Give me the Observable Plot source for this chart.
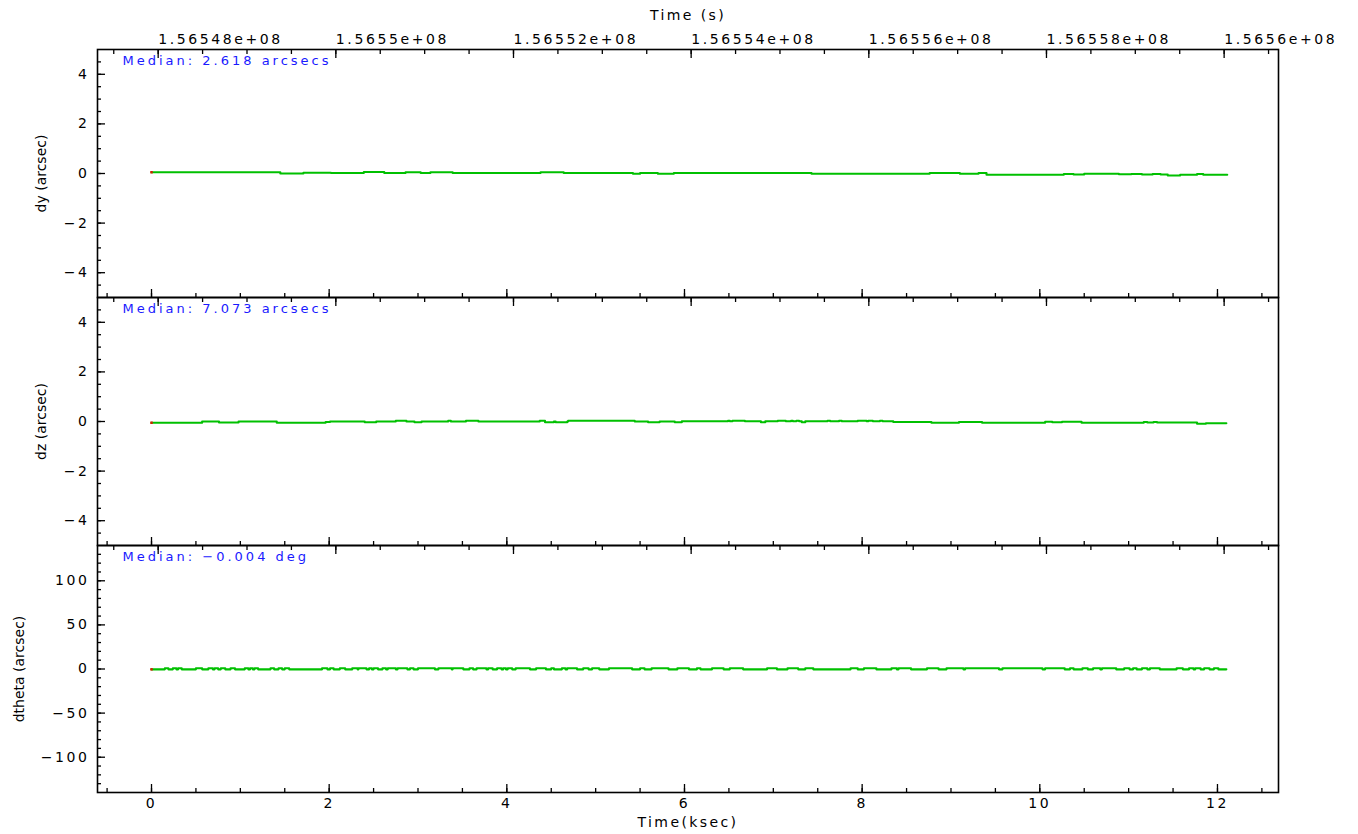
<!DOCTYPE html>
<html>
<head>
<meta charset="utf-8">
<script src="https://cdn.jsdelivr.net/npm/d3@7"></script>
<script src="https://cdn.jsdelivr.net/npm/@observablehq/plot@0.6"></script>
<style>
  body { margin: 0; background: #ffffff; }
  #chart { position: relative; width: 1358px; height: 834px; overflow: hidden; }
  #chart svg { position: absolute; left: 0; overflow: visible; }
  g[aria-label="x-axis tick label"] text, g[aria-label="y-axis tick label"] text { letter-spacing: 2.6px; }
  g[aria-label="x-axis label"] text { letter-spacing: 2.4px; }
  g[aria-label="text"] text { letter-spacing: 3px; }
</style>
</head>
<body>
<div id="chart"></div>
<script>
// ---------- data ----------
// Time axis in ksec; top axis shows absolute time in seconds
const timeOffsetSeconds = 156547925;
const topTickSeconds = [156548000, 156550000, 156552000, 156554000, 156556000, 156558000, 156560000];
const topTickLabels = ["1.56548e+08", "1.5655e+08", "1.56552e+08", "1.56554e+08", "1.56556e+08", "1.56558e+08", "1.5656e+08"];
const bottomTickValues = [0, 2, 4, 6, 8, 10, 12];

const medianLabels = ["Median: 2.618 arcsecs", "Median: 7.073 arcsecs", "Median: \u22120.004 deg"];
const panelLabels = ["dy (arcsec)", "dz (arcsec)", "dtheta (arcsec)"];

// dy (arcsec): step series
const dyTime = [0, 1.45, 1.71, 2.02, 2.39, 2.62, 2.86, 3.03, 3.14, 3.39,
                4.38, 4.64, 5.42, 5.50, 5.70, 5.88, 7.43, 8.76, 9.10, 9.31,
                9.40, 10.27, 10.38, 10.50, 10.89, 11.03, 11.15, 11.27, 11.36, 11.44,
                11.58, 11.77, 11.84, 12.11];
const dyValue = [0.05, 0.00, 0.03, 0.02, 0.06, 0.02, 0.05, 0.02, 0.05, 0.02,
                 0.05, 0.02, -0.01, 0.02, -0.01, 0.02, -0.01, 0.02, -0.01, 0.02,
                 -0.05, -0.02, -0.04, -0.01, -0.03, -0.02, -0.04, -0.02, -0.04, -0.08,
                 -0.05, -0.02, -0.05, -0.05];

// dz (arcsec): step series
const dzTime = [0, 0.57, 0.76, 0.98, 1.41, 1.96, 2.01, 2.40, 2.53, 2.75,
                2.87, 2.96, 3.04, 3.34, 3.37, 3.54, 3.68, 4.37, 4.43, 4.53,
                4.55, 4.68, 4.69, 5.44, 5.59, 5.72, 5.89, 5.97, 6.49, 6.51,
                6.54, 6.68, 6.86, 6.91, 7.05, 7.14, 7.20, 7.22, 7.26, 7.29,
                7.32, 7.36, 7.61, 7.64, 7.74, 7.77, 7.95, 8.05, 8.07, 8.12,
                8.20, 8.23, 8.35, 8.78, 9.09, 9.35, 10.06, 10.14, 10.25, 10.47,
                11.17, 11.21, 11.28, 11.32, 11.77, 11.87, 12.10];
const dzValue = [-0.05, 0.00, -0.04, 0.00, -0.05, -0.02, 0.00, -0.03, 0.00, 0.03,
                 0.00, -0.03, 0.00, 0.03, 0.00, 0.03, 0.00, 0.03, -0.03, 0.00,
                 -0.03, 0.00, 0.03, 0.00, -0.03, 0.00, -0.03, 0.01, 0.03, 0.01,
                 0.03, 0.01, -0.03, 0.01, 0.03, 0.01, 0.03, 0.01, 0.03, 0.01,
                 -0.03, 0.01, 0.03, 0.01, 0.03, 0.01, 0.03, 0.01, 0.03, 0.01,
                 0.03, 0.01, -0.02, -0.05, -0.02, -0.05, -0.01, -0.03, -0.01, -0.05,
                 -0.02, -0.04, -0.02, -0.04, -0.09, -0.07, -0.07];

// dtheta (arcsec): jitter between two levels; spans where it sits on the upper level
const dthetaLow = -0.4, dthetaHigh = 0.8, dthetaEnd = 12.10;
const dthetaHighStart = [0.15, 0.24, 0.30, 0.50, 0.64, 0.71, 0.78, 0.89, 1.05, 1.11,
                         1.16, 1.34, 1.43, 1.50, 1.92, 2.01, 2.12, 2.26, 2.33, 2.45,
                         2.50, 2.60, 2.66, 2.77, 2.91, 3.00, 3.23, 3.39, 3.58, 3.66,
                         3.79, 3.89, 3.96, 4.01, 4.10, 4.33, 4.50, 4.62, 4.68, 4.86,
                         4.96, 5.15, 5.50, 5.63, 5.92, 6.14, 6.31, 6.51, 6.93, 7.16,
                         7.36, 7.87, 8.02, 8.33, 8.41, 8.73, 8.95, 9.16, 9.58, 10.06,
                         10.34, 10.48, 10.60, 10.70, 10.95, 11.05, 11.15, 11.24, 11.54, 11.68,
                         11.75, 11.85, 11.96];
const dthetaHighEnd = [0.19, 0.28, 0.34, 0.57, 0.69, 0.75, 0.83, 0.94, 1.09, 1.14,
                       1.20, 1.38, 1.47, 1.55, 1.98, 2.05, 2.18, 2.32, 2.42, 2.48,
                       2.55, 2.64, 2.75, 2.88, 2.95, 3.19, 3.38, 3.51, 3.62, 3.77,
                       3.84, 3.94, 3.99, 4.06, 4.26, 4.44, 4.53, 4.66, 4.79, 4.92,
                       5.04, 5.41, 5.55, 5.82, 6.05, 6.18, 6.44, 6.66, 7.04, 7.28,
                       7.45, 7.95, 8.16, 8.39, 8.55, 8.86, 9.14, 9.54, 10.03, 10.28,
                       10.38, 10.54, 10.68, 10.86, 11.01, 11.09, 11.21, 11.35, 11.61, 11.73,
                       11.81, 11.91, 12.01];

// ---------- tables built from the arrays ----------
const dyData = dyTime.map((t, i) => ({t, v: dyValue[i]}));
const dzData = dzTime.map((t, i) => ({t, v: dzValue[i]}));
const dthetaData = [{t: 0, v: dthetaLow}];
dthetaHighStart.forEach((s, i) => {
  dthetaData.push({t: s, v: dthetaHigh});
  dthetaData.push({t: dthetaHighEnd[i], v: dthetaLow});
});
dthetaData.push({t: dthetaEnd, v: dthetaLow});

const topTickKsec = topTickSeconds.map(s => (s - timeOffsetSeconds) / 1000);
const topLabelMap = new Map(topTickKsec.map((k, i) => [k, topTickLabels[i]]));
const topMinorKsec = d3.range(156547500, 156561000, 500).map(s => (s - timeOffsetSeconds) / 1000);
const bottomMinor = d3.range(-0.5, 12.75, 0.5);

const xDomain = [-0.608, 12.687];
const green = "#00c000";
const blank = () => "";

function panel(o) {
  const marks = [
    Plot.line(o.data, {x: "t", y: "v", curve: "step-after", stroke: green, strokeWidth: 2.1}),
    Plot.dot(o.data.slice(0, 1), {x: "t", y: "v", r: 1.4, symbol: "square", fill: "#d02000"}),
    Plot.frame({stroke: "black", strokeWidth: 1.6}),
    // left axis
    Plot.axisY(o.yMajor, {anchor: "left", tickSize: -8, tickPadding: 16, strokeWidth: 1.3,
      label: o.yLabel, labelAnchor: "center", labelOffset: o.labelOffset, labelArrow: "none"}),
    Plot.axisY(o.yMinor, {anchor: "left", tickSize: -4, strokeWidth: 1.3, tickFormat: blank, label: null}),
    // top edge: absolute seconds
    Plot.axisX(topTickKsec, {anchor: "top", tickSize: -8, tickPadding: 14, strokeWidth: 1.3,
      tickFormat: o.first ? (d => topLabelMap.get(d)) : blank, textAnchor: "start",
      label: o.first ? "Time (s)" : null, labelAnchor: "center", labelOffset: 39, labelArrow: "none"}),
    Plot.axisX(topMinorKsec, {anchor: "top", tickSize: -4, strokeWidth: 1.3, tickFormat: blank, label: null}),
    // bottom edge: ksec
    Plot.axisX(bottomTickValues, {anchor: "bottom", tickSize: -8, tickPadding: 14, strokeWidth: 1.3,
      tickFormat: o.last ? d3.format("d") : blank,
      label: o.last ? "Time(ksec)" : null, labelAnchor: "center", labelOffset: 34, labelArrow: "none"}),
    Plot.axisX(bottomMinor, {anchor: "bottom", tickSize: -4, strokeWidth: 1.3, tickFormat: blank, label: null}),
    Plot.text([o.median], {text: d => d, frameAnchor: "top-left", dx: 25, dy: 6,
      textAnchor: "start", lineAnchor: "top", fill: "#1a1aff", fontSize: 13})
  ];
  const svg = Plot.plot({
    width: 1358, height: o.height,
    marginLeft: 97, marginRight: 80, marginTop: o.mt, marginBottom: o.mb,
    x: {domain: xDomain},
    y: {domain: o.yDomain},
    style: {fontFamily: "DejaVu Sans", fontSize: "14px", color: "black", background: "transparent", overflow: "visible"},
    marks
  });
  svg.style.top = o.top + "px";
  return svg;
}

const chart = document.getElementById("chart");
chart.append(panel({
  data: dyData, yDomain: [-5, 5], yMajor: [-4, -2, 0, 2, 4], yMinor: d3.range(-4.5, 5, 0.5),
  yLabel: panelLabels[0], labelOffset: 61, median: medianLabels[0],
  top: 0, height: 297, mt: 49, mb: 0, first: true, last: false
}));
chart.append(panel({
  data: dzData, yDomain: [-5, 5], yMajor: [-4, -2, 0, 2, 4], yMinor: d3.range(-4.5, 5, 0.5),
  yLabel: panelLabels[1], labelOffset: 61, median: medianLabels[1],
  top: 297, height: 248, mt: 0, mb: 0, first: false, last: false
}));
chart.append(panel({
  data: dthetaData, yDomain: [-140, 140], yMajor: [-100, -50, 0, 50, 100], yMinor: d3.range(-130, 140, 10),
  yLabel: panelLabels[2], labelOffset: 83, median: medianLabels[2],
  top: 545, height: 289, mt: 0, mb: 42, first: false, last: true
}));
</script>
</body>
</html>
